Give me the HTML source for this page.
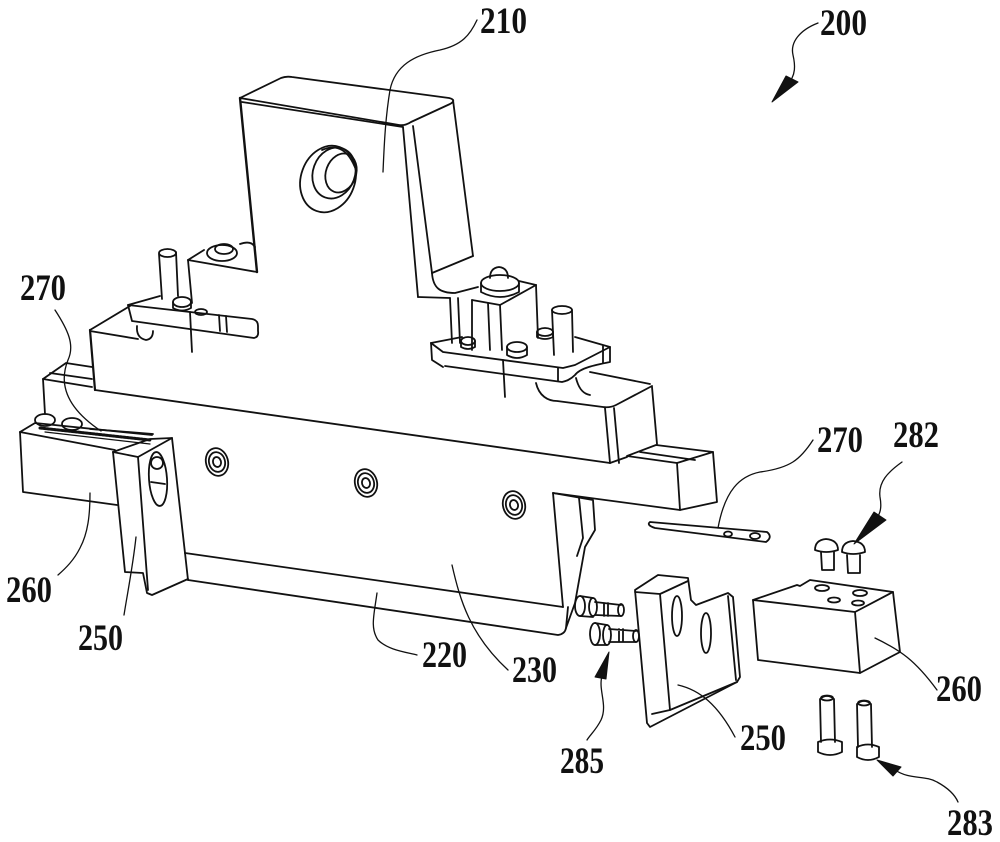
<!DOCTYPE html>
<html><head><meta charset="utf-8">
<style>
html,body{margin:0;padding:0;background:#fff;}
svg{display:block;}
text{font-family:"Liberation Serif","DejaVu Serif",serif;font-weight:bold;font-size:37px;fill:#111;}
</style></head><body>
<svg width="1000" height="842" viewBox="0 0 1000 842" xmlns="http://www.w3.org/2000/svg">
<rect width="1000" height="842" fill="#fff"/>
<g fill="none" stroke="#111" stroke-width="1.8" stroke-linejoin="round" stroke-linecap="round">

<!-- ===== 210 upright ===== -->
<path d="M240,98 L281,78 Q286,76 292,77 L449,98 Q457,100 450,104 L411,122 Q405,126 399,125 Z"/>
<path d="M242,102 L403,127"/>
<path d="M240,98 L257,272" stroke-width="2.4"/>
<path d="M403,127 L418,297"/>
<path d="M413,126 L432,273"/>
<path d="M453,100 L473,256"/>
<path d="M432,273 L473,256"/>
<path d="M432,273 C433,288 440,293 455,293 L478,287"/>
<path d="M418,297 L450,298"/>
<ellipse cx="328" cy="179" rx="27" ry="34" transform="rotate(20 328 179)"/>
<ellipse cx="334" cy="173" rx="21" ry="26" transform="rotate(20 334 173)"/>
<ellipse cx="341" cy="173" rx="15" ry="20" transform="rotate(20 341 173)"/>
<path d="M322,150 Q345,140 356,170"/>

<!-- left shoulder -->
<path d="M188,260 L257,272"/>
<path d="M188,260 L204,250"/>
<path d="M188,260 L192,303"/>
<ellipse cx="222" cy="253" rx="15" ry="8"/>
<ellipse cx="224" cy="249" rx="9" ry="5"/>
<path d="M240,244 Q251,240 255,247"/>

<!-- left pin -->
<path d="M159,254 L162,299 M176,252 L178,296"/>
<ellipse cx="167.5" cy="253" rx="8.5" ry="4"/>

<!-- left clamp plate -->
<path d="M128,305 L132,321 L254,338 Q259,337 258,331 L258,326 Q258,320 252,319 L128,305 Z"/>
<path d="M128,305 L160,296"/>
<path d="M219,315 L220,331 M226,316 L227,332"/>
<ellipse cx="182" cy="302" rx="9" ry="5"/>
<path d="M173,302 L173,308 Q182,313 191,308 L191,302"/>
<ellipse cx="201" cy="312" rx="6" ry="3"/>
<path d="M137,326 Q136,338 146,340 Q153,339 153,331"/>
<path d="M190,312 L192,352"/>

<!-- upper block -->
<path d="M90,330 L130,306"/>
<path d="M90,330 L95,390" stroke-width="2.2"/>
<path d="M90,331 L138,339"/>
<path d="M95,390 L610,463"/>

<!-- right nut block -->
<path d="M472,300 L472,350"/>
<path d="M488,303 L490,350"/>
<path d="M500,305 L502,350"/>
<path d="M472,300 L500,305 L536,285"/>
<path d="M536,285 L538,338"/>
<path d="M519,281 L536,285"/>
<ellipse cx="500" cy="283" rx="19" ry="8"/>
<path d="M481,283 L481,292 Q500,302 519,292 L519,283"/>
<path d="M490,278 Q490,268 499,267 Q508,268 508,278"/>
<path d="M450,298 L452,343 M458,298 L460,343"/>

<!-- right clamp plate -->
<path d="M431,343 L432,360 L443,367"/>
<path d="M431,343 L443,352 L563,368 L575,365 L610,347 L610,362 C595,365 580,368 575,375 C570,380 566,381 562,382 L445,366"/>
<path d="M431,343 L462,337"/>
<path d="M575,337 L610,347"/>
<path d="M558,368 L558,381 M603,346 L603,363"/>
<ellipse cx="468" cy="341" rx="7" ry="4"/>
<path d="M461,341 L461,347 Q468,351 475,347 L475,341"/>
<ellipse cx="517" cy="347" rx="10" ry="5"/>
<path d="M507,347 L507,355 Q517,361 527,355 L527,347"/>
<ellipse cx="545" cy="332" rx="8" ry="4"/>
<path d="M537,332 L537,337 Q545,341 553,337 L553,332"/>
<ellipse cx="562" cy="310" rx="10" ry="4"/>
<path d="M552,310 L554,355 M572,310 L573,352"/>
<path d="M503,360 L505,397"/>

<!-- right block of upper base -->
<path d="M536,383 C539,396 548,401 557,401 L603,407 Q610,408 616,405 L652,386"/>
<path d="M576,378 C579,390 584,394 590,395"/>
<path d="M590,372 L650,384"/>
<path d="M605,408 L610,463"/>
<path d="M614,408 L619,463"/>
<path d="M652,387 L657,444"/>

<!-- rail -->
<path d="M43,379 L66,363 L92,367"/>
<path d="M43,379 L92,387"/>
<path d="M50,373 L92,379"/>
<path d="M43,379 L45,414"/>
<path d="M627,456 L656,445 L713,452 L677,463 Z"/>
<path d="M640,452 L695,460"/>
<path d="M677,463 L680,510 L717,502 L713,452"/>
<path d="M553,493 L680,510"/>
<path d="M610,463 L627,457"/>

<!-- 230 / 220 -->
<path d="M185,553 L563,607"/>
<path d="M188,580 L558,635 Q565,634 566,628 L568,607"/>
<path d="M185,553 L188,580"/>
<path d="M553,493 L563,607"/>
<path d="M553,493 L593,500 L595,530 L585,547 L575,603 L566,628"/>
<path d="M579,498 L583,538 L577,556"/>

<!-- screws on 230 -->
<g transform="translate(217,462) rotate(-15)"><ellipse rx="11" ry="14"/><ellipse rx="8" ry="10"/><ellipse rx="4" ry="5"/></g>
<g transform="translate(366,483) rotate(-15)"><ellipse rx="11" ry="14"/><ellipse rx="8" ry="10"/><ellipse rx="4" ry="5"/></g>
<g transform="translate(514,505) rotate(-15)"><ellipse rx="11" ry="14"/><ellipse rx="8" ry="10"/><ellipse rx="4" ry="5"/></g>

<!-- left 260 -->
<path d="M20,432 L115,450"/>
<path d="M20,432 L23,492 L117,505"/>
<path d="M20,432 L35,423 L152,435"/>
<path d="M40,428 L150,440" stroke-width="3" stroke-dasharray="2 1.5"/>
<path d="M45,432 L150,444" stroke-width="1.2"/>
<path d="M90,429 L153,434"/>
<ellipse cx="45" cy="420" rx="10" ry="6"/>
<ellipse cx="72" cy="424" rx="10" ry="6"/>

<!-- left 250 -->
<path d="M113,452 L125,572 L143,573 L147,593 L152,595 L188,579"/>
<path d="M113,452 L150,439 L172,438 L185,553"/>
<path d="M113,452 L138,457 L172,438"/>
<path d="M138,457 L148,590"/>
<ellipse cx="158" cy="479" rx="9" ry="27" transform="rotate(-4 158 479)"/>
<circle cx="157" cy="463" r="6"/>
<path d="M151,482 L165,484"/>

<!-- right 270 strip -->
<path d="M650,522 L767,532 Q773,537 766,542 L655,528 Q646,525 650,522 Z"/>
<ellipse cx="728" cy="534" rx="4" ry="2.5"/>
<ellipse cx="755" cy="536" rx="5" ry="3"/>

<!-- 282 screws -->
<path d="M815,550 Q815,540 826,539 Q838,540 838,550 Q826,554 815,550 Z"/>
<path d="M821,552 L822,570 L834,570 L834,552"/>
<path d="M842,552 Q842,542 853,541 Q865,542 865,552 Q853,556 842,552 Z"/>
<path d="M847,555 L848,573 L860,573 L860,555"/>

<!-- right 260 block -->
<path d="M753,600 L855,612 L860,673 L758,660 Z"/>
<path d="M753,600 L797,585 L800,586 L810,580 L893,592 L855,612"/>
<path d="M893,592 L900,652 L860,673"/>
<ellipse cx="822" cy="588" rx="7" ry="3"/>
<ellipse cx="860" cy="593" rx="7" ry="3"/>
<ellipse cx="834" cy="600" rx="6" ry="2.5"/>
<ellipse cx="858" cy="603" rx="6" ry="2.5"/>

<!-- 283 bolts -->
<path d="M821,742 L820,699 Q827,693 834,699 L835,742"/>
<ellipse cx="827" cy="698" rx="6" ry="2.5"/>
<path d="M818,742 L818,752 Q830,758 842,752 L842,742 Q830,737 818,742 Z"/>
<path d="M858,747 L857,704 Q864,698 871,704 L872,747"/>
<ellipse cx="864" cy="703" rx="6" ry="2.5"/>
<path d="M857,747 L857,757 Q868,763 879,757 L879,747 Q868,742 857,747 Z"/>

<!-- right 250 bracket -->
<path d="M635,590 L658,575 L688,578 L691,600 L696,605 L728,593 L733,597 L740,677 L737,682 L650,727 L647,723 L635,590"/>
<path d="M635,592 L660,594 L670,710"/>
<path d="M660,594 L688,581"/>
<path d="M652,714 L670,710 L737,682"/>
<path d="M728,596 L736,680"/>
<ellipse cx="677" cy="616" rx="5" ry="20"/>
<ellipse cx="706" cy="633" rx="5" ry="20"/>

<!-- 285 bolts -->
<ellipse cx="580" cy="606" rx="5" ry="10"/>
<path d="M580,596 L593,598 M580,616 L593,617"/>
<ellipse cx="593" cy="607" rx="4" ry="9"/>
<path d="M595,602 L621,605 M595,615 L621,616 M604,603 L604,616 M608,603 L608,616"/>
<ellipse cx="621" cy="610" rx="3" ry="6"/>
<ellipse cx="595" cy="634" rx="5" ry="11"/>
<path d="M595,623 L607,625 M595,645 L607,645"/>
<ellipse cx="607" cy="635" rx="4" ry="10"/>
<path d="M609,629 L636,631 M609,642 L636,642 M619,629 L619,642 M623,629 L623,642"/>
<ellipse cx="636" cy="636" rx="3" ry="6"/>

<!-- ===== leaders ===== -->
<path d="M477,20 C470,35 462,45 440,50 C415,55 395,65 390,90 C385,120 384,150 383,172" stroke-width="1.3"/>
<path d="M818,23 C800,30 790,42 793,55 C796,68 794,74 792,78" stroke-width="1.3"/>
<path d="M55,310 C68,330 75,345 68,360 C60,380 62,405 101,431" stroke-width="1.3"/>
<path d="M90,493 C90,515 88,533 80,548 C74,560 66,568 58,575" stroke-width="1.3"/>
<path d="M136,537 C133,565 128,590 124,615" stroke-width="1.3"/>
<path d="M377,593 C374,615 370,628 378,640 C388,650 405,652 417,655" stroke-width="1.3"/>
<path d="M452,565 C460,600 470,635 508,670" stroke-width="1.3"/>
<path d="M813,440 C800,460 790,468 760,472 C740,476 725,490 718,528" stroke-width="1.3"/>
<path d="M902,462 C888,472 878,482 880,497 C882,508 880,513 878,516" stroke-width="1.3"/>
<path d="M875,638 C900,650 915,660 937,690" stroke-width="1.3"/>
<path d="M678,685 C700,690 718,705 735,737" stroke-width="1.3"/>
<path d="M602,676 C598,690 608,705 601,720 C596,730 590,735 587,740" stroke-width="1.3"/>
<path d="M895,770 C910,780 925,775 937,782 C948,788 955,795 958,802" stroke-width="1.3"/>
</g>

<!-- arrowheads -->
<g fill="#111" stroke="#111" stroke-width="1" stroke-linejoin="round">
<path d="M786,76 L798,82 L772,102 Z"/>
<path d="M874,512 L886,520 L854,544 Z"/>
<path d="M609,652 L595,677 L606,679 Z"/>
<path d="M877,760 L901,767 L893,776 Z"/>
</g>

<!-- labels -->
<text x="480" y="33" textLength="47" lengthAdjust="spacingAndGlyphs">210</text>
<text x="820" y="35" textLength="47" lengthAdjust="spacingAndGlyphs">200</text>
<text x="20" y="300" textLength="46" lengthAdjust="spacingAndGlyphs">270</text>
<text x="817" y="452" textLength="46" lengthAdjust="spacingAndGlyphs">270</text>
<text x="893" y="447" textLength="46" lengthAdjust="spacingAndGlyphs">282</text>
<text x="6" y="602" textLength="46" lengthAdjust="spacingAndGlyphs">260</text>
<text x="78" y="650" textLength="45" lengthAdjust="spacingAndGlyphs">250</text>
<text x="422" y="667" textLength="45" lengthAdjust="spacingAndGlyphs">220</text>
<text x="512" y="682" textLength="45" lengthAdjust="spacingAndGlyphs">230</text>
<text x="936" y="701" textLength="46" lengthAdjust="spacingAndGlyphs">260</text>
<text x="740" y="750" textLength="46" lengthAdjust="spacingAndGlyphs">250</text>
<text x="560" y="773" textLength="44" lengthAdjust="spacingAndGlyphs">285</text>
<text x="947" y="835" textLength="46" lengthAdjust="spacingAndGlyphs">283</text>
</svg>
</body></html>
